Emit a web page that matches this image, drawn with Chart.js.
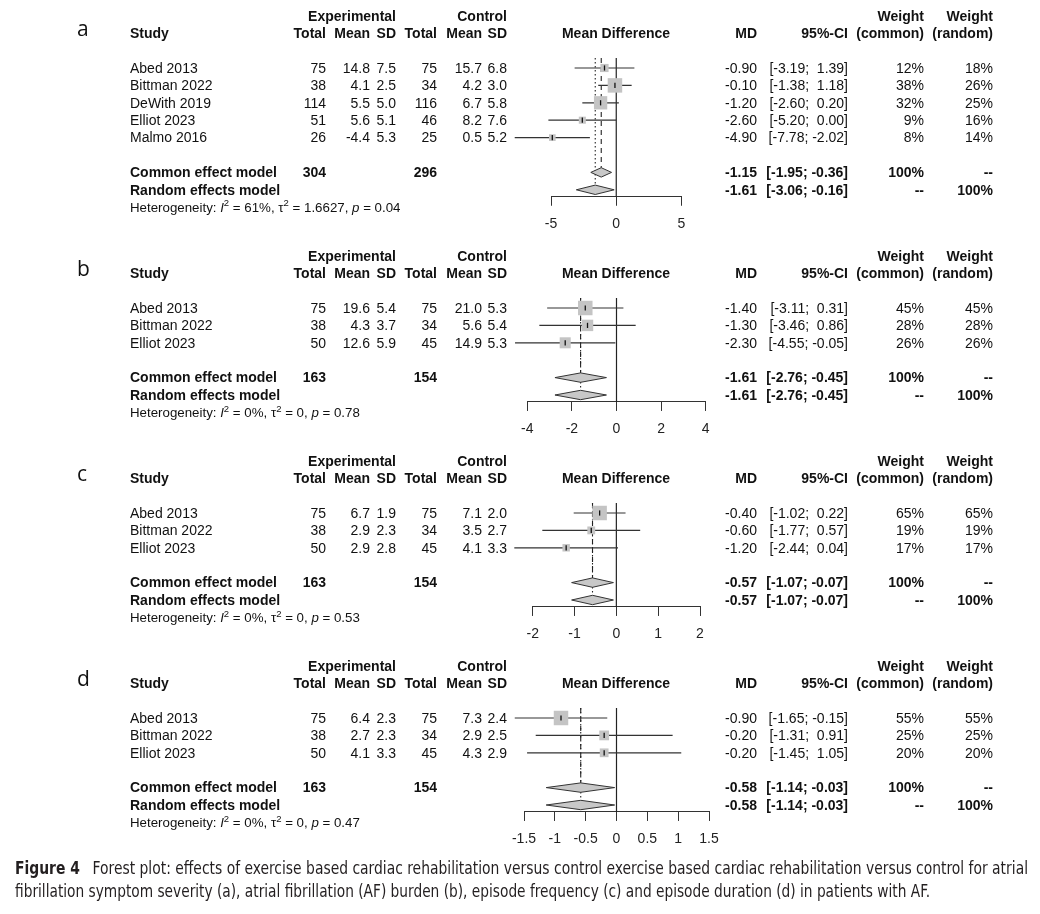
<!DOCTYPE html>
<html>
<head>
<meta charset="utf-8">
<script src="https://cdn.jsdelivr.net/npm/chart.js@4.4.0/dist/chart.umd.min.js"></script>
<style>
body { margin:0; background:#fff; width:1040px; height:914px; position:relative; overflow:hidden; }
canvas { position:absolute; left:0; }
.cap { position:absolute; left:15px; font-family:"Liberation Sans Narrow","DejaVu Sans Condensed",sans-serif; font-size:17px; line-height:20px; color:#231f20; white-space:nowrap; transform-origin:0 0; display:inline-block; }
.cap b { margin-right:14px; }
</style>
</head>
<body>
<canvas id="pa" width="1040" height="260" style="top:0px"></canvas>
<canvas id="pb" width="1040" height="225" style="top:240px"></canvas>
<canvas id="pc" width="1040" height="225" style="top:445px"></canvas>
<canvas id="pd" width="1040" height="225" style="top:650px"></canvas>
<div class="cap" id="cap1" style="top:858px"><b>Figure 4</b>Forest plot: effects of exercise based cardiac rehabilitation versus control exercise based cardiac rehabilitation versus control for atrial</div>
<div class="cap" id="cap2" style="top:881px">fibrillation symptom severity (a), atrial fibrillation (AF) burden (b), episode frequency (c) and episode duration (d) in patients with AF.</div>
<script>
// a - symptom severity
const studyA = ['Abed 2013', 'Bittman 2022', 'DeWith 2019', 'Elliot 2023', 'Malmo 2016']
const expNA = [75, 38, 114, 51, 26]
const expMeanA = [14.8, 4.1, 5.5, 5.6, -4.4]
const expSdA = [7.5, 2.5, 5.0, 5.1, 5.3]
const ctlNA = [75, 34, 116, 46, 25]
const ctlMeanA = [15.7, 4.2, 6.7, 8.2, 0.5]
const ctlSdA = [6.8, 3.0, 5.8, 7.6, 5.2]
const mdA = [-0.90, -0.10, -1.20, -2.60, -4.90]
const loA = [-3.19, -1.38, -2.60, -5.20, -7.78]
const hiA = [1.39, 1.18, 0.20, 0.00, -2.02]
const wComA = [12, 38, 32, 9, 8]
const wRanA = [18, 26, 25, 16, 14]
const totalsA = [304, 296]
const commonA = [-1.15, -1.95, -0.36]
const randomA = [-1.61, -3.06, -0.16]
const hetA = ['61%', '1.6627', '0.04']
const ticksA = [-5, 0, 5]

// b - AF burden
const studyB = ['Abed 2013', 'Bittman 2022', 'Elliot 2023']
const expNB = [75, 38, 50]
const expMeanB = [19.6, 4.3, 12.6]
const expSdB = [5.4, 3.7, 5.9]
const ctlNB = [75, 34, 45]
const ctlMeanB = [21.0, 5.6, 14.9]
const ctlSdB = [5.3, 5.4, 5.3]
const mdB = [-1.40, -1.30, -2.30]
const loB = [-3.11, -3.46, -4.55]
const hiB = [0.31, 0.86, -0.05]
const wComB = [45, 28, 26]
const wRanB = [45, 28, 26]
const totalsB = [163, 154]
const commonB = [-1.61, -2.76, -0.45]
const randomB = [-1.61, -2.76, -0.45]
const hetB = ['0%', '0', '0.78']
const ticksB = [-4, -2, 0, 2, 4]

// c - episode frequency
const studyC = ['Abed 2013', 'Bittman 2022', 'Elliot 2023']
const expNC = [75, 38, 50]
const expMeanC = [6.7, 2.9, 2.9]
const expSdC = [1.9, 2.3, 2.8]
const ctlNC = [75, 34, 45]
const ctlMeanC = [7.1, 3.5, 4.1]
const ctlSdC = [2.0, 2.7, 3.3]
const mdC = [-0.40, -0.60, -1.20]
const loC = [-1.02, -1.77, -2.44]
const hiC = [0.22, 0.57, 0.04]
const wComC = [65, 19, 17]
const wRanC = [65, 19, 17]
const totalsC = [163, 154]
const commonC = [-0.57, -1.07, -0.07]
const randomC = [-0.57, -1.07, -0.07]
const hetC = ['0%', '0', '0.53']
const ticksC = [-2, -1, 0, 1, 2]

// d - episode duration
const studyD = ['Abed 2013', 'Bittman 2022', 'Elliot 2023']
const expND = [75, 38, 50]
const expMeanD = [6.4, 2.7, 4.1]
const expSdD = [2.3, 2.3, 3.3]
const ctlND = [75, 34, 45]
const ctlMeanD = [7.3, 2.9, 4.3]
const ctlSdD = [2.4, 2.5, 2.9]
const mdD = [-0.90, -0.20, -0.20]
const loD = [-1.65, -1.31, -1.45]
const hiD = [-0.15, 0.91, 1.05]
const wComD = [55, 25, 20]
const wRanD = [55, 25, 20]
const totalsD = [163, 154]
const commonD = [-0.58, -1.14, -0.03]
const randomD = [-0.58, -1.14, -0.03]
const hetD = ['0%', '0', '0.47']
const ticksD = [-1.5, -1, -0.5, 0, 0.5, 1, 1.5]

const FONT = '"Liberation Sans", Arial, sans-serif'
const ROW1 = 68, GAP = 17.4

function txt(ctx, s, x, y, align, bold, size) {
    ctx.font = (bold ? 'bold ' : '') + (size || 14) + 'px ' + FONT
    ctx.textAlign = align
    ctx.fillText(s, x, y + 1)
}

function rich(ctx, parts, x, y) {
    parts.forEach(function (p) {
        let size = 13.3, dy = 1, st = ''
        if (p[1] == 'i') st = 'italic '
        if (p[1] == 's') { size = 9.5; dy = -3.5 }
        ctx.font = st + size + 'px ' + FONT
        ctx.textAlign = 'left'
        ctx.fillText(p[0], x, y + dy)
        x += ctx.measureText(p[0]).width
    })
}

function ci(lo, hi) {
    return '[' + lo.toFixed(2) + '; ' + (hi >= 0 ? ' ' : '') + hi.toFixed(2) + ']'
}

function forest(id, letter, p, px) {
    const k = p.study.length
    const canvas = document.getElementById(id)
    const H = canvas.height
    const bottom = ROW1 + (k + 2.4) * GAP
    const axisH = 9 + 14 * 1.2 + 2 * 10
    const wmax = Math.max.apply(null, p.wc)
    const rowCom = k + 2, rowRan = k + 3
    const hh = 0.27

    const datasets = []
    // little tick at each estimate
    datasets.push({
        data: p.md.map((m, i) => ({x: m, y: i + 1})),
        pointStyle: 'line', pointRotation: 90, pointRadius: 2.6,
        borderColor: '#111', borderWidth: 1.3, clip: false, order: 0
    })
    // squares
    datasets.push({
        data: p.md.map((m, i) => ({x: m, y: i + 1})),
        pointStyle: 'rect',
        pointRadius: p.wc.map(w => 14.5 * Math.sqrt(w / wmax) / Math.SQRT2),
        backgroundColor: '#c4c4c4', borderWidth: 0, clip: false, order: 1
    })
    // CI lines
    p.md.forEach(function (m, i) {
        datasets.push({
            data: [{x: p.lo[i], y: i + 1}, {x: p.hi[i], y: i + 1}],
            showLine: true, pointRadius: 0, borderColor: '#333', borderWidth: 1.2,
            clip: false, order: 2
        })
    })
    // diamonds
    ;[[p.com, rowCom], [p.ran, rowRan]].forEach(function (d) {
        const e = d[0], r = d[1]
        datasets.push({
            data: [{x: e[1], y: r}, {x: e[0], y: r - hh}, {x: e[2], y: r}, {x: e[0], y: r + hh}, {x: e[1], y: r}],
            showLine: true, fill: 'shape', tension: 0, pointRadius: 0,
            backgroundColor: '#c8c8c8', borderColor: '#333', borderWidth: 1, order: 2
        })
    })
    // zero line + pooled lines
    datasets.push({
        data: [{x: 0, y: 0.43}, {x: 0, y: k + 3.4}],
        showLine: true, pointRadius: 0, borderColor: '#222', borderWidth: 1.2, order: 3
    })
    datasets.push({
        data: [{x: p.com[0], y: 0.43}, {x: p.com[0], y: rowCom - hh}],
        showLine: true, pointRadius: 0, borderColor: '#222', borderWidth: 1.1, borderDash: [5, 4], order: 3
    })
    datasets.push({
        data: [{x: p.ran[0], y: 0.43}, {x: p.ran[0], y: rowRan - hh}],
        showLine: true, pointRadius: 0, borderColor: '#222', borderWidth: 1.1, borderDash: [1.5, 2.5], order: 3
    })

    const columns = {
        id: 'columns',
        afterDraw: function (chart) {
            const ctx = chart.ctx
            const Y = r => chart.scales.y.getPixelForValue(r)
            ctx.save()
            ctx.fillStyle = '#111'
            ctx.textBaseline = 'middle'

            ctx.font = '21px "Open Sans", "Noto Sans", sans-serif'
            ctx.textAlign = 'left'
            ctx.fillText(letter, 77, Y(-1) - 3)

            // headers
            txt(ctx, 'Experimental', 396, Y(-2), 'right', true)
            txt(ctx, 'Control', 507, Y(-2), 'right', true)
            txt(ctx, 'Weight', 924, Y(-2), 'right', true)
            txt(ctx, 'Weight', 993, Y(-2), 'right', true)
            txt(ctx, 'Study', 130, Y(-1), 'left', true)
            txt(ctx, 'Total', 326, Y(-1), 'right', true)
            txt(ctx, 'Mean', 370, Y(-1), 'right', true)
            txt(ctx, 'SD', 396, Y(-1), 'right', true)
            txt(ctx, 'Total', 437, Y(-1), 'right', true)
            txt(ctx, 'Mean', 482, Y(-1), 'right', true)
            txt(ctx, 'SD', 507, Y(-1), 'right', true)
            txt(ctx, 'Mean Difference', 616, Y(-1), 'center', true)
            txt(ctx, 'MD', 757, Y(-1), 'right', true)
            txt(ctx, '95%-CI', 848, Y(-1), 'right', true)
            txt(ctx, '(common)', 924, Y(-1), 'right', true)
            txt(ctx, '(random)', 993, Y(-1), 'right', true)

            // studies
            p.study.forEach(function (s, i) {
                const y = Y(i + 1)
                txt(ctx, s, 130, y, 'left')
                txt(ctx, String(p.expN[i]), 326, y, 'right')
                txt(ctx, p.expM[i].toFixed(1), 370, y, 'right')
                txt(ctx, p.expS[i].toFixed(1), 396, y, 'right')
                txt(ctx, String(p.ctlN[i]), 437, y, 'right')
                txt(ctx, p.ctlM[i].toFixed(1), 482, y, 'right')
                txt(ctx, p.ctlS[i].toFixed(1), 507, y, 'right')
                txt(ctx, p.md[i].toFixed(2), 757, y, 'right')
                txt(ctx, ci(p.lo[i], p.hi[i]), 848, y, 'right')
                txt(ctx, p.wc[i] + '%', 924, y, 'right')
                txt(ctx, p.wr[i] + '%', 993, y, 'right')
            })

            // pooled rows
            let y = Y(rowCom)
            txt(ctx, 'Common effect model', 130, y, 'left', true)
            txt(ctx, String(p.tot[0]), 326, y, 'right', true)
            txt(ctx, String(p.tot[1]), 437, y, 'right', true)
            txt(ctx, p.com[0].toFixed(2), 757, y, 'right', true)
            txt(ctx, ci(p.com[1], p.com[2]), 848, y, 'right', true)
            txt(ctx, '100%', 924, y, 'right', true)
            txt(ctx, '--', 993, y, 'right', true)
            y = Y(rowRan)
            txt(ctx, 'Random effects model', 130, y, 'left', true)
            txt(ctx, p.ran[0].toFixed(2), 757, y, 'right', true)
            txt(ctx, ci(p.ran[1], p.ran[2]), 848, y, 'right', true)
            txt(ctx, '--', 924, y, 'right', true)
            txt(ctx, '100%', 993, y, 'right', true)

            rich(ctx, [['Heterogeneity: ', 'n'], ['I', 'i'], ['2', 's'], [' = ' + p.het[0] + ', ', 'n'],
                ['\u03c4', 'n'], ['2', 's'], [' = ' + p.het[1] + ', ', 'n'], ['p', 'i'], [' = ' + p.het[2], 'n']],
                130, Y(k + 4))
            ctx.restore()
        }
    }

    return new Chart(canvas, {
        type: 'scatter',
        data: {datasets: datasets},
        plugins: [columns],
        options: {
            responsive: false,
            animation: false,
            devicePixelRatio: 1,
            layout: {
                padding: {left: px[0], right: 1040 - px[1], top: ROW1 - 0.6 * GAP, bottom: H - bottom - axisH}
            },
            plugins: {legend: {display: false}, tooltip: {enabled: false}},
            scales: {
                x: {
                    type: 'linear',
                    min: p.ticks[0],
                    max: p.ticks[p.ticks.length - 1],
                    afterBuildTicks: function (s) { s.ticks = p.ticks.map(v => ({value: v})) },
                    ticks: {
                        callback: v => String(v), color: '#222', padding: 10,
                        maxRotation: 0, autoSkip: false,
                        font: {family: FONT, size: 14}
                    },
                    grid: {drawOnChartArea: false, drawTicks: true, tickLength: 9, color: '#333'},
                    border: {color: '#333', width: 1}
                },
                y: {type: 'linear', display: false, reverse: true, min: 0.4, max: k + 3.4}
            }
        }
    })
}

forest('pa', 'a', {study: studyA, expN: expNA, expM: expMeanA, expS: expSdA, ctlN: ctlNA, ctlM: ctlMeanA, ctlS: ctlSdA,
    md: mdA, lo: loA, hi: hiA, wc: wComA, wr: wRanA, tot: totalsA, com: commonA, ran: randomA, het: hetA, ticks: ticksA}, [551, 681.5])
forest('pb', 'b', {study: studyB, expN: expNB, expM: expMeanB, expS: expSdB, ctlN: ctlNB, ctlM: ctlMeanB, ctlS: ctlSdB,
    md: mdB, lo: loB, hi: hiB, wc: wComB, wr: wRanB, tot: totalsB, com: commonB, ran: randomB, het: hetB, ticks: ticksB}, [527.3, 705.7])
forest('pc', 'c', {study: studyC, expN: expNC, expM: expMeanC, expS: expSdC, ctlN: ctlNC, ctlM: ctlMeanC, ctlS: ctlSdC,
    md: mdC, lo: loC, hi: hiC, wc: wComC, wr: wRanC, tot: totalsC, com: commonC, ran: randomC, het: hetC, ticks: ticksC}, [532.7, 700])
forest('pd', 'd', {study: studyD, expN: expND, expM: expMeanD, expS: expSdD, ctlN: ctlND, ctlM: ctlMeanD, ctlS: ctlSdD,
    md: mdD, lo: loD, hi: hiD, wc: wComD, wr: wRanD, tot: totalsD, com: commonD, ran: randomD, het: hetD, ticks: ticksD}, [524, 709])

// squeeze caption lines to the printed width
;[['cap1', 1013], ['cap2', 915]].forEach(function (c) {
    const el = document.getElementById(c[0])
    const w = el.getBoundingClientRect().width
    el.style.transform = 'scaleX(' + (c[1] / w) + ')'
})
</script>
</body>
</html>
